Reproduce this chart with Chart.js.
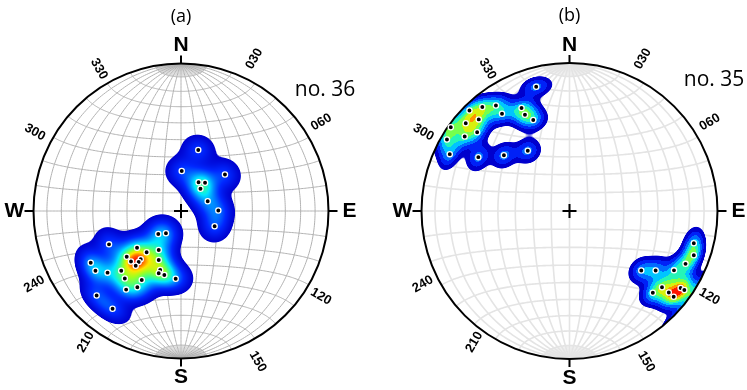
<!DOCTYPE html>
<html>
<head>
<meta charset="utf-8">
<script src="https://cdn.jsdelivr.net/npm/chart.js@4/dist/chart.umd.min.js"></script>
<style>
html,body{margin:0;padding:0;background:#fff;}
#wrap{position:relative;width:747px;height:390px;overflow:hidden;}
#wrap canvas{position:absolute;left:0;top:0;}
</style>
</head>
<body>
<div id="wrap">
<canvas id="netA" width="747" height="390"></canvas>
<canvas id="netB" width="747" height="390"></canvas>
</div>
<script>
// ---------------- DATA (projected pole positions, fraction of net radius: [east, north]) ----------------
const panelTitles = ['(a)', '(b)'];
const sampleLabels = ['no. 36', 'no. 35'];
const cardinalLabels = ['N', 'E', 'S', 'W'];
const azimuthLabels = ['030', '060', '120', '150', '210', '240', '300', '330'];

// net (a): south-west cluster
const polesA_SW = [
  [-0.488,-0.226],[-0.154,-0.156],[-0.102,-0.151],[-0.298,-0.249],[-0.233,-0.280],
  [-0.151,-0.264],[-0.368,-0.310],[-0.339,-0.342],[-0.273,-0.327],[-0.287,-0.346],
  [-0.307,-0.371],[-0.151,-0.332],[-0.612,-0.351],[-0.580,-0.405],[-0.498,-0.418],
  [-0.405,-0.405],[-0.141,-0.400],[-0.151,-0.422],[-0.113,-0.434],[-0.036,-0.459],
  [-0.381,-0.458],[-0.266,-0.468],[-0.296,-0.517],[-0.372,-0.533],[-0.572,-0.573],
  [-0.464,-0.663]
];
// net (a): north-east cluster
const polesA_NE = [
  [0.117,0.414],[0.005,0.271],[0.298,0.247],[0.119,0.195],[0.163,0.192],
  [0.132,0.151],[0.181,0.066],[0.253,0.003],[0.228,-0.103]
];
// net (b): north-west cluster
const polesB_NW = [
  [-0.225,0.840],[-0.676,0.679],[-0.589,0.703],[-0.497,0.713],[-0.324,0.696],
  [-0.456,0.657],[-0.301,0.650],[-0.245,0.615],[-0.701,0.593],[-0.613,0.619],
  [-0.802,0.566],[-0.828,0.483],[-0.708,0.503],[-0.624,0.532],[-0.809,0.384],
  [-0.616,0.364],[-0.443,0.377],[-0.282,0.407]
];
// net (b): south-east cluster
const polesB_SE = [
  [0.840,-0.218],[0.840,-0.299],[0.784,-0.357],[0.485,-0.402],[0.582,-0.402],
  [0.706,-0.401],[0.625,-0.515],[0.751,-0.520],[0.776,-0.534],[0.671,-0.551],
  [0.563,-0.552],[0.704,-0.579]
];

// ---------------- helpers ----------------
const D2R = Math.PI / 180;
// transverse Schmidt (equal-area) net: phi = latitude about N-S axis, lam = longitude
function netPoint(phi, lam) {
  const p = phi * D2R, l = lam * D2R;
  const N = Math.sin(p), E = Math.cos(p) * Math.sin(l), D = Math.cos(p) * Math.cos(l);
  const s = Math.sqrt(1 + D);
  return [E / s, N / s];
}
function toVec(x, y) {
  const r2 = x * x + y * y;
  const f = Math.sqrt(Math.max(0, 2 - r2));
  return [x * f, y * f, 1 - r2];
}
const STOPS = [
  [0.00, [0, 0, 205]],
  [0.15, [0, 40, 255]],
  [0.30, [0, 140, 255]],
  [0.42, [0, 230, 255]],
  [0.55, [60, 255, 140]],
  [0.68, [160, 255, 30]],
  [0.80, [255, 230, 0]],
  [0.90, [255, 120, 0]],
  [1.00, [255, 20, 0]]
];
function cmap(t) {
  t = Math.max(0, Math.min(1, t));
  for (let i = 1; i < STOPS.length; i++) {
    if (t <= STOPS[i][0]) {
      const [t0, c0] = STOPS[i - 1], [t1, c1] = STOPS[i];
      const u = (t - t0) / (t1 - t0);
      return [c0[0] + (c1[0] - c0[0]) * u, c0[1] + (c1[1] - c0[1]) * u, c0[2] + (c1[2] - c0[2]) * u];
    }
  }
  return STOPS[STOPS.length - 1][1];
}

const LABEL_POS = { // display azimuth (deg) and distance (px) of the rim labels
  '030': [25.7, 169], '060': [57.7, 166], '120': [121.5, 164], '150': [153, 169],
  '210': [216, 162], '240': [243.5, 164], '300': [298.3, 166], '330': [330, 164]
};

function stereonetPlugin(cfg) {
  return {
    id: 'stereonet',
    beforeDatasetsDraw(chart) {
      const ctx = chart.ctx, xs = chart.scales.x, ys = chart.scales.y, ca = chart.chartArea;
      const px = v => xs.getPixelForValue(v), py = v => ys.getPixelForValue(v);
      const cx = px(0), cy = py(0), R = px(1) - cx;
      ctx.save();
      // ----- grid -----
      ctx.strokeStyle = cfg.gridColor; ctx.lineWidth = cfg.gridWidth;
      const line = (pts) => { ctx.beginPath(); pts.forEach((p, i) => { const X = px(p[0]), Y = py(p[1]); i ? ctx.lineTo(X, Y) : ctx.moveTo(X, Y); }); ctx.stroke(); };
      for (let lam = -80; lam <= 80; lam += 10) { const pts = []; for (let phi = -90; phi <= 90; phi += 1) pts.push(netPoint(phi, lam)); line(pts); }
      for (let phi = -80; phi <= 80; phi += 10) { const pts = []; for (let lam = -90; lam <= 90; lam += 1) pts.push(netPoint(phi, lam)); line(pts); }
      ctx.lineWidth = cfg.gridWidth * 0.35;
      for (let lam = -88; lam <= 88; lam += 2) {
        if (lam % 10 === 0) continue;
        let pts = []; for (let phi = 80; phi <= 90; phi += 1) pts.push(netPoint(phi, lam)); line(pts);
        pts = []; for (let phi = -90; phi <= -80; phi += 1) pts.push(netPoint(phi, lam)); line(pts);
      }
      // ----- density (spherical kernel, antipodal) -----
      const vecs = cfg.poles.map(p => toVec(p[0], p[1]));
      const x0 = Math.floor(ca.left), y0 = Math.floor(ca.top);
      const w = Math.ceil(ca.right) - x0, h = Math.ceil(ca.bottom) - y0;
      const dens = new Float32Array(w * h);
      let vmax = 0;
      for (let j = 0; j < h; j++) {
        const yv = ys.getValueForPixel(y0 + j + 0.5);
        for (let i = 0; i < w; i++) {
          const xv = xs.getValueForPixel(x0 + i + 0.5);
          if (xv * xv + yv * yv > 1) { dens[j * w + i] = -1; continue; }
          const g = toVec(xv, yv);
          let s = 0;
          for (const v of vecs) { const c = Math.abs(g[0] * v[0] + g[1] * v[1] + g[2] * v[2]); s += Math.exp(cfg.k * (c - 1)); }
          dens[j * w + i] = s; if (s > vmax) vmax = s;
        }
      }
      const off = document.createElement('canvas'); off.width = w; off.height = h;
      const octx = off.getContext('2d'); const img = octx.createImageData(w, h);
      for (let n = 0; n < w * h; n++) {
        const v = dens[n]; if (v < cfg.thr) continue;
        let t = (v - cfg.thr) / (vmax * cfg.top - cfg.thr);
        let a = Math.min(1, (v - cfg.thr) / 0.04);
        if (cfg.levels) { t = Math.min(cfg.levels - 1, Math.floor(t * cfg.levels)) / (cfg.levels - 1); }
        const c = cmap(t);
        img.data[n * 4] = c[0]; img.data[n * 4 + 1] = c[1]; img.data[n * 4 + 2] = c[2]; img.data[n * 4 + 3] = 255 * a;
      }
      octx.putImageData(img, 0, 0);
      ctx.beginPath(); ctx.arc(cx, cy, R, 0, 2 * Math.PI); ctx.clip();
      ctx.drawImage(off, x0, y0);
      ctx.restore();
      ctx.save();
      // ----- primitive circle, ticks, centre cross -----
      ctx.strokeStyle = '#000'; ctx.lineWidth = 2;
      ctx.beginPath(); ctx.arc(cx, cy, R, 0, 2 * Math.PI); ctx.stroke();
      ctx.beginPath();
      ctx.moveTo(cx, cy - R); ctx.lineTo(cx, cy - R - 8);
      ctx.moveTo(cx, cy + R); ctx.lineTo(cx, cy + R + 8);
      ctx.moveTo(cx - R, cy); ctx.lineTo(cx - R - 9, cy);
      ctx.moveTo(cx + R, cy); ctx.lineTo(cx + R + 9, cy);
      ctx.stroke();
      ctx.beginPath();
      ctx.moveTo(cx - 7, cy); ctx.lineTo(cx + 7, cy);
      ctx.moveTo(cx, cy - 7); ctx.lineTo(cx, cy + 7);
      ctx.stroke();
      ctx.restore();
    },
    afterDraw(chart) {
      const ctx = chart.ctx, xs = chart.scales.x, ys = chart.scales.y;
      const cx = xs.getPixelForValue(0), cy = ys.getPixelForValue(0), R = xs.getPixelForValue(1) - cx;
      ctx.save();
      ctx.fillStyle = '#000'; ctx.textAlign = 'center'; ctx.textBaseline = 'middle';
      ctx.font = 'bold 21px "Liberation Sans", Arial, sans-serif';
      ctx.fillText(cardinalLabels[0], cx, cy - R - 18);
      ctx.fillText(cardinalLabels[1], cx + R + 21, cy);
      ctx.fillText(cardinalLabels[2], cx, cy + R + 19);
      ctx.fillText(cardinalLabels[3], cx - R - 19, cy);
      ctx.font = 'bold 13px "Liberation Sans", Arial, sans-serif';
      azimuthLabels.forEach(lbl => {
        const az = parseInt(lbl, 10);
        const [daz, dist] = LABEL_POS[lbl];
        const X = cx + dist * Math.sin(daz * D2R), Y = cy - dist * Math.cos(daz * D2R);
        const rot = (az < 180 ? az - 90 : az + 90) * D2R;
        ctx.save(); ctx.translate(X, Y); ctx.rotate(rot); ctx.fillText(lbl, 0, 0); ctx.restore();
      });
      ctx.font = '18px "Open Sans", sans-serif';
      ctx.fillText(cfg.title, cx, cy - R - 47);
      ctx.font = '21px "Open Sans", sans-serif';
      ctx.fillText(cfg.sample, cx + cfg.sampleDX, cy + cfg.sampleDY);
      ctx.restore();
    }
  };
}

function makeNet(id, poles, cfg, padding) {
  new Chart(document.getElementById(id), {
    type: 'scatter',
    data: { datasets: [{
      data: poles.map(p => ({ x: p[0], y: p[1] })),
      pointRadius: 2.6, pointHoverRadius: 2.6,
      backgroundColor: '#000', borderColor: '#fff', borderWidth: 1.3
    }] },
    options: {
      responsive: false, animation: false, events: [],
      layout: { padding },
      scales: {
        x: { type: 'linear', min: -1, max: 1, display: false },
        y: { type: 'linear', min: -1, max: 1, display: false }
      },
      plugins: { legend: { display: false }, tooltip: { enabled: false } }
    },
    plugins: [stereonetPlugin(Object.assign({ poles }, cfg))]
  });
}

makeNet('netA', polesA_SW.concat(polesA_NE), {
  gridColor: '#b2b2b2', gridWidth: 1, k: 120, thr: 0.22, top: 1.0, levels: 0,
  title: panelTitles[0], sample: sampleLabels[0], sampleDX: 144, sampleDY: -121
}, { left: 33.5, right: 418.5, top: 63.5, bottom: 31.5 });

makeNet('netB', polesB_NW.concat(polesB_SE), {
  gridColor: '#e4e4e4', gridWidth: 1.6, k: 170, thr: 0.26, top: 1.0, levels: 9,
  title: panelTitles[1], sample: sampleLabels[1], sampleDX: 144.5, sampleDY: -131
}, { left: 421.5, right: 29.5, top: 63, bottom: 31 });
</script>
</body>
</html>
